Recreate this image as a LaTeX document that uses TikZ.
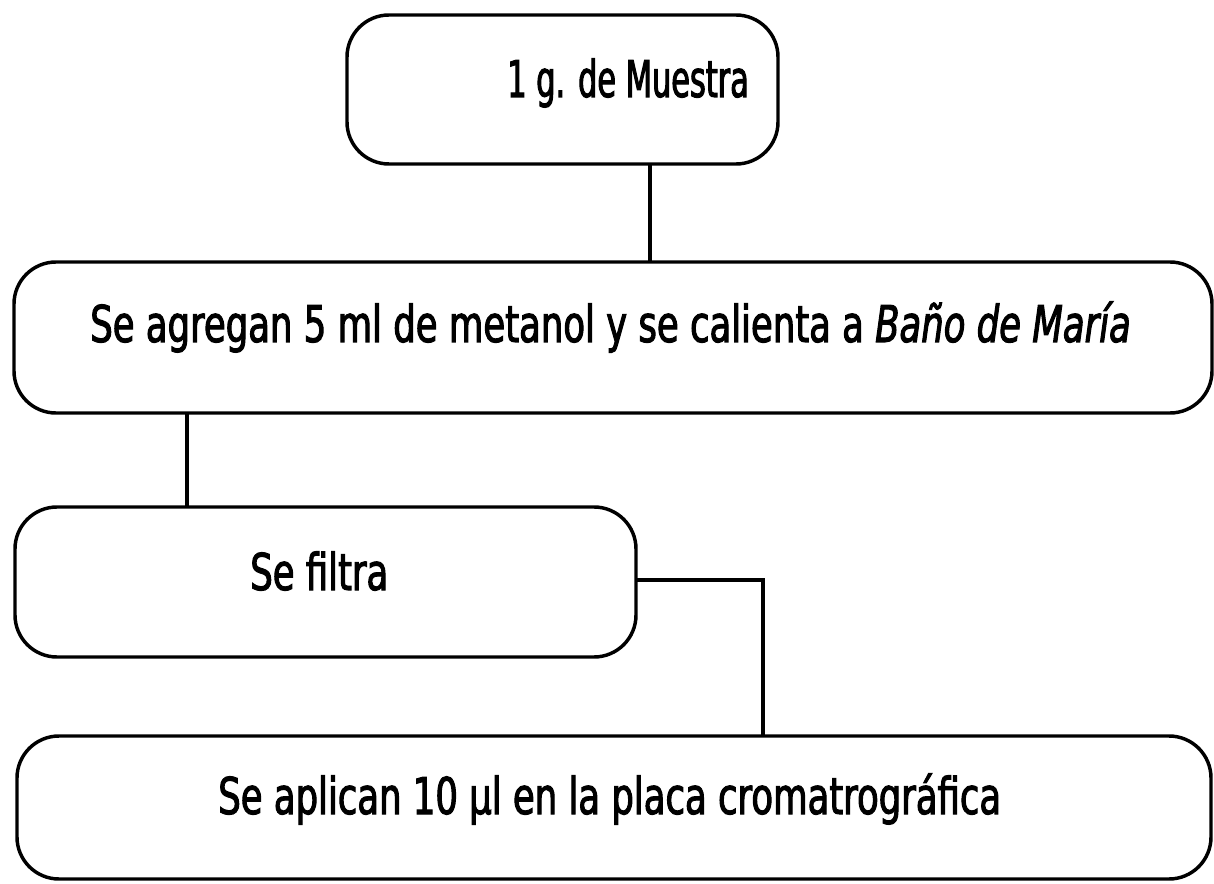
\documentclass[tikz,border=0pt]{standalone}
\usepackage{fontspec}
\setmainfont[FakeStretch=0.7,FakeBold=2]{DejaVu Sans}
\newfontfamily\tightfont[FakeStretch=0.6,FakeBold=2]{DejaVu Sans}
\begin{document}
\begin{tikzpicture}[x=0.75pt,y=-0.75pt,
  box/.style={draw, line width=2.6pt, rounded corners=31.5pt, inner sep=0pt, outer sep=0pt},
  conn/.style={line width=2.6pt},
  lbl/.style={anchor=base west, inner sep=0pt, font=\fontsize{38}{46}\selectfont}]
\useasboundingbox (0,0) rectangle (1214,884);
\node[box, minimum width=323.25pt, minimum height=111.75pt] (b1) at (562.5,89.5) {};
\node[box, minimum width=898.5pt, minimum height=113.25pt] (b2) at (613,337.5) {};
\node[box, minimum width=465.75pt, minimum height=112.5pt] (b3) at (325.5,582) {};
\node[box, minimum width=895.5pt, minimum height=107.25pt] (b4) at (614,807.5) {};
\node[lbl, font=\fontsize{38}{46}\tightfont] (t1) at (507,97) {1 g. de Muestra};
\node[lbl] (t2) at (90,342) {Se agregan 5 ml de metanol y se calienta a \textit{Baño de María}};
\node[lbl] (t3) at (250,590) {Se filtra};
\node[lbl] (t4) at (218,814) {Se aplican 10 µl en la placa cromatrográfica};
\coordinate (x1) at (650,0);
\coordinate (x2) at (187,0);
\coordinate (x3) at (763,580);
\draw[conn] (b1.south -| x1) -- (b2.north -| x1);
\draw[conn] (b2.south -| x2) -- (b3.north -| x2);
\draw[conn] (b3.east |- x3) -- (x3) -- (b4.north -| x3);
\end{tikzpicture}
\end{document}
